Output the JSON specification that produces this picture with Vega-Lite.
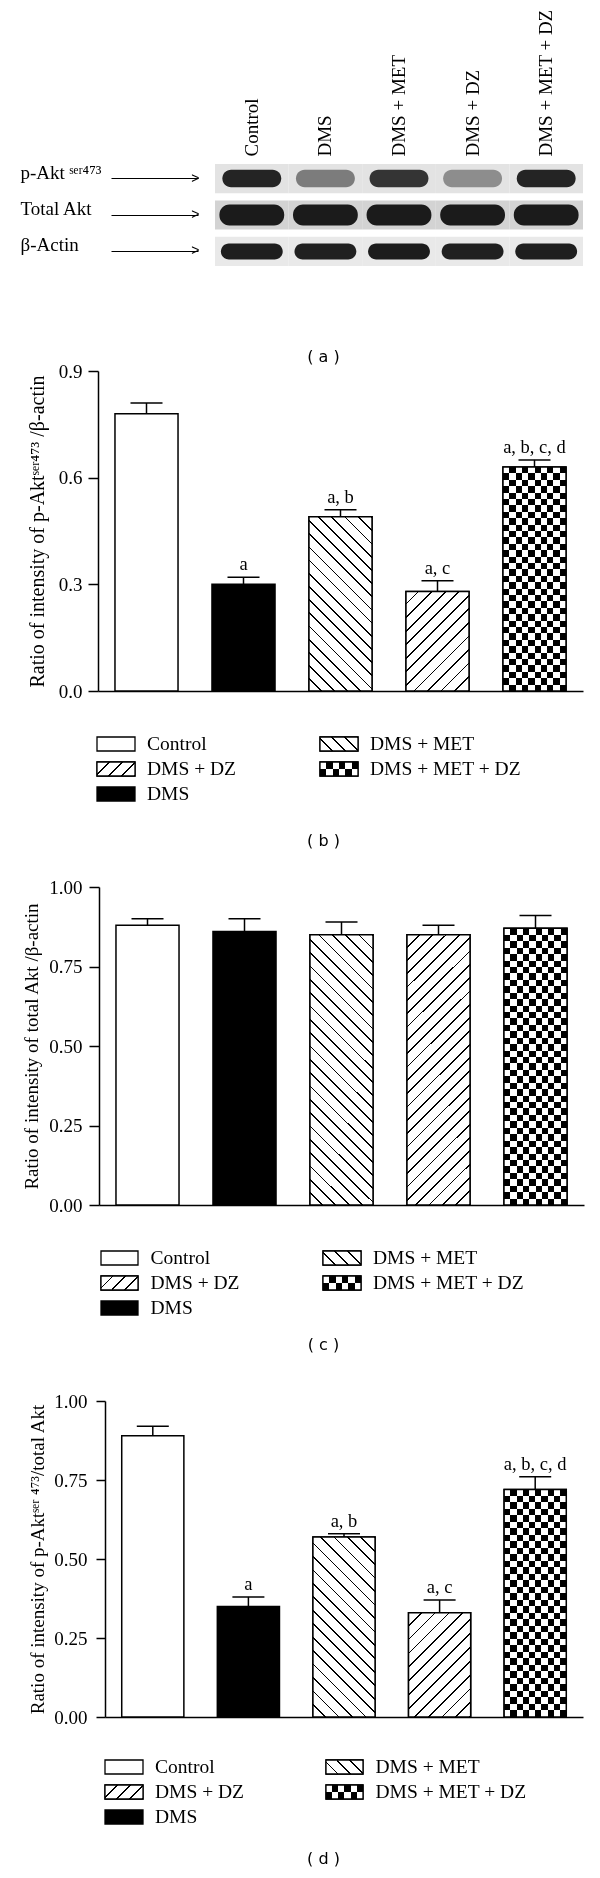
{
"$schema": "https://vega.github.io/schema/vega-lite/v6.json",
"width": 600, "height": 1878,
"autosize": {"type": "none"},
"padding": 0,
"background": "white",
"datasets": {
"blot": [
{"lane":"Control","protein":"p-Akt","intensity":0.93},{"lane":"DMS","protein":"p-Akt","intensity":0.5},{"lane":"DMS + MET","protein":"p-Akt","intensity":0.85},{"lane":"DMS + DZ","protein":"p-Akt","intensity":0.42},{"lane":"DMS + MET + DZ","protein":"p-Akt","intensity":0.93},
{"lane":"Control","protein":"Total Akt","intensity":0.97},{"lane":"DMS","protein":"Total Akt","intensity":0.97},{"lane":"DMS + MET","protein":"Total Akt","intensity":0.97},{"lane":"DMS + DZ","protein":"Total Akt","intensity":0.97},{"lane":"DMS + MET + DZ","protein":"Total Akt","intensity":0.97},
{"lane":"Control","protein":"β-Actin","intensity":0.96},{"lane":"DMS","protein":"β-Actin","intensity":0.95},{"lane":"DMS + MET","protein":"β-Actin","intensity":0.97},{"lane":"DMS + DZ","protein":"β-Actin","intensity":0.95},{"lane":"DMS + MET + DZ","protein":"β-Actin","intensity":0.96}
],
"pAkt_actin": [
{"group":"Control","mean":0.78,"upper":0.81,"sig":""},
{"group":"DMS","mean":0.30,"upper":0.32,"sig":"a"},
{"group":"DMS + MET","mean":0.49,"upper":0.51,"sig":"a, b"},
{"group":"DMS + DZ","mean":0.28,"upper":0.31,"sig":"a, c"},
{"group":"DMS + MET + DZ","mean":0.63,"upper":0.65,"sig":"a, b, c, d"}
],
"totalAkt_actin": [
{"group":"Control","mean":0.88,"upper":0.90,"sig":""},
{"group":"DMS","mean":0.86,"upper":0.90,"sig":""},
{"group":"DMS + MET","mean":0.85,"upper":0.89,"sig":""},
{"group":"DMS + DZ","mean":0.85,"upper":0.88,"sig":""},
{"group":"DMS + MET + DZ","mean":0.87,"upper":0.91,"sig":""}
],
"pAkt_totalAkt": [
{"group":"Control","mean":0.89,"upper":0.92,"sig":""},
{"group":"DMS","mean":0.35,"upper":0.38,"sig":"a"},
{"group":"DMS + MET","mean":0.57,"upper":0.58,"sig":"a, b"},
{"group":"DMS + DZ","mean":0.33,"upper":0.37,"sig":"a, c"},
{"group":"DMS + MET + DZ","mean":0.72,"upper":0.76,"sig":"a, b, c, d"}
]
},
"layer": [
{
"data": {"name": "blot"},
"encoding": {
"x": {"field":"lane","type":"nominal","scale":{"type":"band","domain":["Control","DMS","DMS + MET","DMS + DZ","DMS + MET + DZ"],"range":[215,583],"paddingInner":0,"paddingOuter":0},
"axis":{"orient":"top","offset":-159,"ticks":false,"domain":false,"labelAngle":-90,"labelAlign":"left","labelBaseline":"middle","labelPadding":3,"labelLimit":300,"title":"( a )","titleX":323,"titleY":197,"titleFont":"DejaVu Sans","titleFontSize":16,"titleBaseline":"middle","titleAlign":"center"}},
"y": {"field":"protein","type":"nominal","scale":{"type":"band","domain":["p-Akt","Total Akt","β-Actin"],"range":[164,266],"paddingInner":0.2,"paddingOuter":0},
"axis":{"orient":"left","offset":-198,"domain":false,"tickSize":87,"tickWidth":1.2,"labelAlign":"left","labelBaseline":"alphabetic","labelPadding":91,"labelExpr":"datum.value === 'p-Akt' ? 'p-Akt ˢᵉʳ⁴⁷³' : datum.value","title":null}}
},
"layer": [
{"mark":{"type":"rect","opacity":1},"encoding":{"fill":{"field":"protein","type":"nominal","scale":{"domain":["p-Akt","Total Akt","β-Actin"],"range":["#e3e3e3","#d3d3d3","#e9e9e9"]},"legend":null}}},
{"transform":[{"filter":"datum.protein === 'p-Akt'"}],"mark":{"type":"rect","width":{"band":0.8},"height":{"band":0.6},"cornerRadius":9,"fill":"#151515"},
"encoding":{"opacity":{"field":"intensity","type":"quantitative","scale":null,"legend":null},
"y":{"field":"protein","type":"nominal","scale":{"type":"band","domain":["p-Akt","Total Akt","β-Actin"],"range":[164,266],"paddingInner":0.2,"paddingOuter":0},
"axis":{"orient":"left","offset":-198,"ticks":false,"domain":false,"labelExpr":"'>'","labelAlign":"right","labelBaseline":"middle","labelPadding":-1,"labelFont":"Liberation Sans","labelFontSize":14,"title":null}}}},
{"transform":[{"filter":"datum.protein === 'Total Akt'"}],"mark":{"type":"rect","width":{"band":0.88},"height":{"band":0.72},"cornerRadius":10,"fill":"#151515"},
"encoding":{"opacity":{"field":"intensity","type":"quantitative","scale":null,"legend":null},
"y":{"field":"protein","type":"nominal","scale":{"type":"band","domain":["p-Akt","Total Akt","β-Actin"],"range":[164,266],"paddingInner":0.2,"paddingOuter":0},"axis":null}}},
{"transform":[{"filter":"datum.protein === 'β-Actin'"}],"mark":{"type":"rect","width":{"band":0.84},"height":{"band":0.55},"cornerRadius":8,"fill":"#151515"},
"encoding":{"opacity":{"field":"intensity","type":"quantitative","scale":null,"legend":null},
"y":{"field":"protein","type":"nominal","scale":{"type":"band","domain":["p-Akt","Total Akt","β-Actin"],"range":[164,266],"paddingInner":0.2,"paddingOuter":0},"axis":null}}}
],
"resolve": {"axis": {"y": "independent"}}
},
{
"data": {"name": "pAkt_actin"},
"encoding": {
"x": {"field":"group","type":"nominal","scale":{"type":"band","domain":["Control","DMS","DMS + MET","DMS + DZ","DMS + MET + DZ"],"range":[98,583],"paddingInner":0.35,"paddingOuter":0.175},
"axis":{"orient":"bottom","offset":-1187,"ticks":false,"labels":false,"title":"( b )","titleX":323,"titleY":149,"titleFont":"DejaVu Sans","titleFontSize":16,"titleBaseline":"middle","titleAlign":"center"}},
"y": {"field":"mean","type":"quantitative","scale":{"domain":[0,0.9],"range":[691,371],"nice":false,"zero":false},
"axis":{"orient":"left","offset":-98,"values":[0,0.3,0.6,0.9],"format":".1f","tickSize":10,"labelPadding":6,"title":"Ratio of intensity of p-Aktˢᵉʳ⁴⁷³ /β-actin","titleFontSize":20,"titleX":-55,"titleBaseline":"alphabetic","titleLimit":1000}}
},
"layer": [
{"mark":{"type":"bar","stroke":"#000","strokeWidth":1.5,"opacity":1},"encoding":{"fill":{"field":"group","type":"nominal","scale":{"domain":["Control","DMS","DMS + MET","DMS + DZ","DMS + MET + DZ"],"range":["#fff","#000","#fff","#fff","#fff"]},"legend":null}}},
{"transform":[{"filter":"datum.group === 'DMS + MET'"}],"mark":{"type":"bar","stroke":"#000","strokeWidth":1.5,"opacity":1,"fill":{"gradient":"linear","x1":0,"y1":1,"x2":0.4358,"y2":-0.2042,"stops":[{"offset":0,"color":"#fff"},{"offset":0.0483,"color":"#fff"},{"offset":0.0483,"color":"#000"},{"offset":0.0556,"color":"#000"},{"offset":0.0556,"color":"#fff"},{"offset":0.1039,"color":"#fff"},{"offset":0.1039,"color":"#000"},{"offset":0.1111,"color":"#000"},{"offset":0.1111,"color":"#fff"},{"offset":0.1594,"color":"#fff"},{"offset":0.1594,"color":"#000"},{"offset":0.1667,"color":"#000"},{"offset":0.1667,"color":"#fff"},{"offset":0.215,"color":"#fff"},{"offset":0.215,"color":"#000"},{"offset":0.2222,"color":"#000"},{"offset":0.2222,"color":"#fff"},{"offset":0.2706,"color":"#fff"},{"offset":0.2706,"color":"#000"},{"offset":0.2778,"color":"#000"},{"offset":0.2778,"color":"#fff"},{"offset":0.3261,"color":"#fff"},{"offset":0.3261,"color":"#000"},{"offset":0.3333,"color":"#000"},{"offset":0.3333,"color":"#fff"},{"offset":0.3817,"color":"#fff"},{"offset":0.3817,"color":"#000"},{"offset":0.3889,"color":"#000"},{"offset":0.3889,"color":"#fff"},{"offset":0.4372,"color":"#fff"},{"offset":0.4372,"color":"#000"},{"offset":0.4444,"color":"#000"},{"offset":0.4444,"color":"#fff"},{"offset":0.4928,"color":"#fff"},{"offset":0.4928,"color":"#000"},{"offset":0.5,"color":"#000"},{"offset":0.5,"color":"#fff"},{"offset":0.5483,"color":"#fff"},{"offset":0.5483,"color":"#000"},{"offset":0.5556,"color":"#000"},{"offset":0.5556,"color":"#fff"},{"offset":0.6039,"color":"#fff"},{"offset":0.6039,"color":"#000"},{"offset":0.6111,"color":"#000"},{"offset":0.6111,"color":"#fff"},{"offset":0.6594,"color":"#fff"},{"offset":0.6594,"color":"#000"},{"offset":0.6667,"color":"#000"},{"offset":0.6667,"color":"#fff"},{"offset":0.715,"color":"#fff"},{"offset":0.715,"color":"#000"},{"offset":0.7222,"color":"#000"},{"offset":0.7222,"color":"#fff"},{"offset":0.7706,"color":"#fff"},{"offset":0.7706,"color":"#000"},{"offset":0.7778,"color":"#000"},{"offset":0.7778,"color":"#fff"},{"offset":0.8261,"color":"#fff"},{"offset":0.8261,"color":"#000"},{"offset":0.8333,"color":"#000"},{"offset":0.8333,"color":"#fff"},{"offset":0.8817,"color":"#fff"},{"offset":0.8817,"color":"#000"},{"offset":0.8889,"color":"#000"},{"offset":0.8889,"color":"#fff"},{"offset":0.9372,"color":"#fff"},{"offset":0.9372,"color":"#000"},{"offset":0.9444,"color":"#000"},{"offset":0.9444,"color":"#fff"},{"offset":0.9928,"color":"#fff"},{"offset":0.9928,"color":"#000"},{"offset":1,"color":"#000"}]}}},
{"transform":[{"filter":"datum.group === 'DMS + DZ'"}],"mark":{"type":"bar","stroke":"#000","strokeWidth":1.5,"opacity":1,"fill":{"gradient":"linear","x1":0,"y1":0,"x2":0.7383,"y2":1.1658,"stops":[{"offset":0,"color":"#fff"},{"offset":0.0725,"color":"#fff"},{"offset":0.0725,"color":"#000"},{"offset":0.0833,"color":"#000"},{"offset":0.0833,"color":"#fff"},{"offset":0.1558,"color":"#fff"},{"offset":0.1558,"color":"#000"},{"offset":0.1667,"color":"#000"},{"offset":0.1667,"color":"#fff"},{"offset":0.2392,"color":"#fff"},{"offset":0.2392,"color":"#000"},{"offset":0.25,"color":"#000"},{"offset":0.25,"color":"#fff"},{"offset":0.3225,"color":"#fff"},{"offset":0.3225,"color":"#000"},{"offset":0.3333,"color":"#000"},{"offset":0.3333,"color":"#fff"},{"offset":0.4058,"color":"#fff"},{"offset":0.4058,"color":"#000"},{"offset":0.4167,"color":"#000"},{"offset":0.4167,"color":"#fff"},{"offset":0.4892,"color":"#fff"},{"offset":0.4892,"color":"#000"},{"offset":0.5,"color":"#000"},{"offset":0.5,"color":"#fff"},{"offset":0.5725,"color":"#fff"},{"offset":0.5725,"color":"#000"},{"offset":0.5833,"color":"#000"},{"offset":0.5833,"color":"#fff"},{"offset":0.6558,"color":"#fff"},{"offset":0.6558,"color":"#000"},{"offset":0.6667,"color":"#000"},{"offset":0.6667,"color":"#fff"},{"offset":0.7392,"color":"#fff"},{"offset":0.7392,"color":"#000"},{"offset":0.75,"color":"#000"},{"offset":0.75,"color":"#fff"},{"offset":0.8225,"color":"#fff"},{"offset":0.8225,"color":"#000"},{"offset":0.8333,"color":"#000"},{"offset":0.8333,"color":"#fff"},{"offset":0.9058,"color":"#fff"},{"offset":0.9058,"color":"#000"},{"offset":0.9167,"color":"#000"},{"offset":0.9167,"color":"#fff"},{"offset":0.9892,"color":"#fff"},{"offset":0.9892,"color":"#000"},{"offset":1,"color":"#000"}]}}},
{"transform":[{"filter":"datum.group === 'DMS + MET + DZ'"}],"mark":{"type":"bar","opacity":1,"fill":{"gradient":"linear","x1":0,"y1":0,"x2":1,"y2":0,"stops":[{"offset":0,"color":"#fff"},{"offset":0.1,"color":"#fff"},{"offset":0.1,"color":"#000"},{"offset":0.2,"color":"#000"},{"offset":0.2,"color":"#fff"},{"offset":0.3,"color":"#fff"},{"offset":0.3,"color":"#000"},{"offset":0.4,"color":"#000"},{"offset":0.4,"color":"#fff"},{"offset":0.5,"color":"#fff"},{"offset":0.5,"color":"#000"},{"offset":0.6,"color":"#000"},{"offset":0.6,"color":"#fff"},{"offset":0.7,"color":"#fff"},{"offset":0.7,"color":"#000"},{"offset":0.8,"color":"#000"},{"offset":0.8,"color":"#fff"},{"offset":0.9,"color":"#fff"},{"offset":0.9,"color":"#000"},{"offset":1,"color":"#000"}]}}},
{"transform":[{"filter":"datum.group === 'DMS + MET + DZ'"}],"mark":{"type":"bar","opacity":1,"blend":"difference","fill":{"gradient":"linear","x1":0,"y1":0,"x2":0,"y2":1,"stops":[{"offset":0,"color":"#000"},{"offset":0.02857,"color":"#000"},{"offset":0.02857,"color":"#fff"},{"offset":0.05714,"color":"#fff"},{"offset":0.05714,"color":"#000"},{"offset":0.08571,"color":"#000"},{"offset":0.08571,"color":"#fff"},{"offset":0.11429,"color":"#fff"},{"offset":0.11429,"color":"#000"},{"offset":0.14286,"color":"#000"},{"offset":0.14286,"color":"#fff"},{"offset":0.17143,"color":"#fff"},{"offset":0.17143,"color":"#000"},{"offset":0.2,"color":"#000"},{"offset":0.2,"color":"#fff"},{"offset":0.22857,"color":"#fff"},{"offset":0.22857,"color":"#000"},{"offset":0.25714,"color":"#000"},{"offset":0.25714,"color":"#fff"},{"offset":0.28571,"color":"#fff"},{"offset":0.28571,"color":"#000"},{"offset":0.31429,"color":"#000"},{"offset":0.31429,"color":"#fff"},{"offset":0.34286,"color":"#fff"},{"offset":0.34286,"color":"#000"},{"offset":0.37143,"color":"#000"},{"offset":0.37143,"color":"#fff"},{"offset":0.4,"color":"#fff"},{"offset":0.4,"color":"#000"},{"offset":0.42857,"color":"#000"},{"offset":0.42857,"color":"#fff"},{"offset":0.45714,"color":"#fff"},{"offset":0.45714,"color":"#000"},{"offset":0.48571,"color":"#000"},{"offset":0.48571,"color":"#fff"},{"offset":0.51429,"color":"#fff"},{"offset":0.51429,"color":"#000"},{"offset":0.54286,"color":"#000"},{"offset":0.54286,"color":"#fff"},{"offset":0.57143,"color":"#fff"},{"offset":0.57143,"color":"#000"},{"offset":0.6,"color":"#000"},{"offset":0.6,"color":"#fff"},{"offset":0.62857,"color":"#fff"},{"offset":0.62857,"color":"#000"},{"offset":0.65714,"color":"#000"},{"offset":0.65714,"color":"#fff"},{"offset":0.68571,"color":"#fff"},{"offset":0.68571,"color":"#000"},{"offset":0.71429,"color":"#000"},{"offset":0.71429,"color":"#fff"},{"offset":0.74286,"color":"#fff"},{"offset":0.74286,"color":"#000"},{"offset":0.77143,"color":"#000"},{"offset":0.77143,"color":"#fff"},{"offset":0.8,"color":"#fff"},{"offset":0.8,"color":"#000"},{"offset":0.82857,"color":"#000"},{"offset":0.82857,"color":"#fff"},{"offset":0.85714,"color":"#fff"},{"offset":0.85714,"color":"#000"},{"offset":0.88571,"color":"#000"},{"offset":0.88571,"color":"#fff"},{"offset":0.91429,"color":"#fff"},{"offset":0.91429,"color":"#000"},{"offset":0.94286,"color":"#000"},{"offset":0.94286,"color":"#fff"},{"offset":0.97143,"color":"#fff"},{"offset":0.97143,"color":"#000"},{"offset":1,"color":"#000"}]}}},
{"transform":[{"filter":"datum.group === 'DMS + MET + DZ'"}],"mark":{"type":"bar","opacity":1,"fillOpacity":0,"stroke":"#000","strokeWidth":1.5}},
{"mark":{"type":"rule","color":"#000","strokeWidth":1.5,"opacity":1},"encoding":{"y2":{"field":"upper"}}},
{"mark":{"type":"tick","color":"#000","size":32,"thickness":1.5,"opacity":1},"encoding":{"y":{"field":"upper","type":"quantitative","scale":{"domain":[0,0.9],"range":[691,371],"nice":false,"zero":false}}}},
{"mark":{"type":"text","color":"#000","font":"Liberation Serif","fontSize":18.5,"baseline":"alphabetic","dy":-7},"encoding":{"y":{"field":"upper","type":"quantitative","scale":{"domain":[0,0.9],"range":[691,371],"nice":false,"zero":false}},"text":{"field":"sig"}}}
]
},
{
"data": {"name": "pAkt_actin"},
"transform": [{"filter":"datum.group === 'Control' || datum.group === 'DMS + DZ' || datum.group === 'DMS'"}],
"encoding": {
"y": {"field":"group","type":"nominal","scale":{"type":"band","domain":["Control","DMS + DZ","DMS"],"range":[737,801],"paddingInner":0.44,"paddingOuter":0},"axis":null},
"x": {"datum":"swatch","type":"nominal","scale":{"type":"band","domain":["swatch"],"range":[97,135],"paddingInner":0,"paddingOuter":0},"axis":null}
},
"layer": [
{"mark":{"type":"rect","stroke":"#000","strokeWidth":1.3,"opacity":1},"encoding":{"fill":{"field":"group","type":"nominal","scale":{"domain":["Control","DMS","DMS + MET","DMS + DZ","DMS + MET + DZ"],"range":["#fff","#000","#fff","#fff","#fff"]},"legend":null}}},
{"transform":[{"filter":"datum.group === 'DMS + DZ'"}],"mark":{"type":"rect","stroke":"#000","strokeWidth":1.3,"opacity":1,"fill":{"gradient":"linear","x1":0,"y1":0,"x2":1.2049,"y2":0.4439,"stops":[{"offset":0,"color":"#fff"},{"offset":0.2175,"color":"#fff"},{"offset":0.2175,"color":"#000"},{"offset":0.25,"color":"#000"},{"offset":0.25,"color":"#fff"},{"offset":0.4675,"color":"#fff"},{"offset":0.4675,"color":"#000"},{"offset":0.5,"color":"#000"},{"offset":0.5,"color":"#fff"},{"offset":0.7175,"color":"#fff"},{"offset":0.7175,"color":"#000"},{"offset":0.75,"color":"#000"},{"offset":0.75,"color":"#fff"},{"offset":0.9675,"color":"#fff"},{"offset":0.9675,"color":"#000"},{"offset":1,"color":"#000"}]}}},
{"mark":{"type":"text","align":"left","baseline":"middle","dx":31,"font":"Liberation Serif","fontSize":19.5,"color":"#000"},"encoding":{"text":{"field":"group"}}}
]
},
{
"data": {"name": "pAkt_actin"},
"transform": [{"filter":"datum.group === 'DMS + MET' || datum.group === 'DMS + MET + DZ'"}],
"encoding": {
"y": {"field":"group","type":"nominal","scale":{"type":"band","domain":["DMS + MET","DMS + MET + DZ"],"range":[737,776],"paddingInner":0.44,"paddingOuter":0},"axis":null},
"x": {"datum":"swatch","type":"nominal","scale":{"type":"band","domain":["swatch"],"range":[320,358],"paddingInner":0,"paddingOuter":0},"axis":null}
},
"layer": [
{"mark":{"type":"rect","stroke":"#000","strokeWidth":1.3,"opacity":1,"fill":"#fff"}},
{"transform":[{"filter":"datum.group === 'DMS + MET'"}],"mark":{"type":"rect","stroke":"#000","strokeWidth":1.3,"opacity":1,"fill":{"gradient":"linear","x1":0,"y1":1,"x2":1.2049,"y2":0.5561,"stops":[{"offset":0,"color":"#fff"},{"offset":0.2175,"color":"#fff"},{"offset":0.2175,"color":"#000"},{"offset":0.25,"color":"#000"},{"offset":0.25,"color":"#fff"},{"offset":0.4675,"color":"#fff"},{"offset":0.4675,"color":"#000"},{"offset":0.5,"color":"#000"},{"offset":0.5,"color":"#fff"},{"offset":0.7175,"color":"#fff"},{"offset":0.7175,"color":"#000"},{"offset":0.75,"color":"#000"},{"offset":0.75,"color":"#fff"},{"offset":0.9675,"color":"#fff"},{"offset":0.9675,"color":"#000"},{"offset":1,"color":"#000"}]}}},
{"transform":[{"filter":"datum.group === 'DMS + MET + DZ'"}],"mark":{"type":"rect","opacity":1,"fill":{"gradient":"linear","x1":0,"y1":0,"x2":1,"y2":0,"stops":[{"offset":0,"color":"#fff"},{"offset":0.1667,"color":"#fff"},{"offset":0.1667,"color":"#000"},{"offset":0.3333,"color":"#000"},{"offset":0.3333,"color":"#fff"},{"offset":0.5,"color":"#fff"},{"offset":0.5,"color":"#000"},{"offset":0.6667,"color":"#000"},{"offset":0.6667,"color":"#fff"},{"offset":0.8333,"color":"#fff"},{"offset":0.8333,"color":"#000"},{"offset":1,"color":"#000"}]}}},
{"transform":[{"filter":"datum.group === 'DMS + MET + DZ'"}],"mark":{"type":"rect","opacity":1,"blend":"difference","fill":{"gradient":"linear","x1":0,"y1":0,"x2":0,"y2":1,"stops":[{"offset":0,"color":"#000"},{"offset":0.5,"color":"#000"},{"offset":0.5,"color":"#fff"},{"offset":1,"color":"#fff"}]}}},
{"transform":[{"filter":"datum.group === 'DMS + MET + DZ'"}],"mark":{"type":"rect","opacity":1,"fillOpacity":0,"stroke":"#000","strokeWidth":1.3}},
{"mark":{"type":"text","align":"left","baseline":"middle","dx":31,"font":"Liberation Serif","fontSize":19.5,"color":"#000"},"encoding":{"text":{"field":"group"}}}
]
},
{
"data": {"name": "totalAkt_actin"},
"encoding": {
"x": {"field":"group","type":"nominal","scale":{"type":"band","domain":["Control","DMS","DMS + MET","DMS + DZ","DMS + MET + DZ"],"range":[99,584],"paddingInner":0.35,"paddingOuter":0.175},
"axis":{"orient":"bottom","offset":-673,"ticks":false,"labels":false,"title":"( c )","titleX":323,"titleY":139,"titleFont":"DejaVu Sans","titleFontSize":16,"titleBaseline":"middle","titleAlign":"center"}},
"y": {"field":"mean","type":"quantitative","scale":{"domain":[0,1],"range":[1205,887],"nice":false,"zero":false},
"axis":{"orient":"left","offset":-99,"values":[0,0.25,0.5,0.75,1],"format":".2f","tickSize":10,"labelPadding":7,"title":"Ratio of intensity of total Akt /β-actin","titleX":-62,"titleBaseline":"alphabetic","titleLimit":1000}}
},
"layer": [
{"mark":{"type":"bar","stroke":"#000","strokeWidth":1.5,"opacity":1},"encoding":{"fill":{"field":"group","type":"nominal","scale":{"domain":["Control","DMS","DMS + MET","DMS + DZ","DMS + MET + DZ"],"range":["#fff","#000","#fff","#fff","#fff"]},"legend":null}}},
{"transform":[{"filter":"datum.group === 'DMS + MET'"}],"mark":{"type":"bar","stroke":"#000","strokeWidth":1.5,"opacity":1,"fill":{"gradient":"linear","x1":0,"y1":1,"x2":0.2722,"y2":-0.1693,"stops":[{"offset":0,"color":"#fff"},{"offset":0.0348,"color":"#fff"},{"offset":0.0348,"color":"#000"},{"offset":0.04,"color":"#000"},{"offset":0.04,"color":"#fff"},{"offset":0.0748,"color":"#fff"},{"offset":0.0748,"color":"#000"},{"offset":0.08,"color":"#000"},{"offset":0.08,"color":"#fff"},{"offset":0.1148,"color":"#fff"},{"offset":0.1148,"color":"#000"},{"offset":0.12,"color":"#000"},{"offset":0.12,"color":"#fff"},{"offset":0.1548,"color":"#fff"},{"offset":0.1548,"color":"#000"},{"offset":0.16,"color":"#000"},{"offset":0.16,"color":"#fff"},{"offset":0.1948,"color":"#fff"},{"offset":0.1948,"color":"#000"},{"offset":0.2,"color":"#000"},{"offset":0.2,"color":"#fff"},{"offset":0.2348,"color":"#fff"},{"offset":0.2348,"color":"#000"},{"offset":0.24,"color":"#000"},{"offset":0.24,"color":"#fff"},{"offset":0.2748,"color":"#fff"},{"offset":0.2748,"color":"#000"},{"offset":0.28,"color":"#000"},{"offset":0.28,"color":"#fff"},{"offset":0.3148,"color":"#fff"},{"offset":0.3148,"color":"#000"},{"offset":0.32,"color":"#000"},{"offset":0.32,"color":"#fff"},{"offset":0.3548,"color":"#fff"},{"offset":0.3548,"color":"#000"},{"offset":0.36,"color":"#000"},{"offset":0.36,"color":"#fff"},{"offset":0.3948,"color":"#fff"},{"offset":0.3948,"color":"#000"},{"offset":0.4,"color":"#000"},{"offset":0.4,"color":"#fff"},{"offset":0.4348,"color":"#fff"},{"offset":0.4348,"color":"#000"},{"offset":0.44,"color":"#000"},{"offset":0.44,"color":"#fff"},{"offset":0.4748,"color":"#fff"},{"offset":0.4748,"color":"#000"},{"offset":0.48,"color":"#000"},{"offset":0.48,"color":"#fff"},{"offset":0.5148,"color":"#fff"},{"offset":0.5148,"color":"#000"},{"offset":0.52,"color":"#000"},{"offset":0.52,"color":"#fff"},{"offset":0.5548,"color":"#fff"},{"offset":0.5548,"color":"#000"},{"offset":0.56,"color":"#000"},{"offset":0.56,"color":"#fff"},{"offset":0.5948,"color":"#fff"},{"offset":0.5948,"color":"#000"},{"offset":0.6,"color":"#000"},{"offset":0.6,"color":"#fff"},{"offset":0.6348,"color":"#fff"},{"offset":0.6348,"color":"#000"},{"offset":0.64,"color":"#000"},{"offset":0.64,"color":"#fff"},{"offset":0.6748,"color":"#fff"},{"offset":0.6748,"color":"#000"},{"offset":0.68,"color":"#000"},{"offset":0.68,"color":"#fff"},{"offset":0.7148,"color":"#fff"},{"offset":0.7148,"color":"#000"},{"offset":0.72,"color":"#000"},{"offset":0.72,"color":"#fff"},{"offset":0.7548,"color":"#fff"},{"offset":0.7548,"color":"#000"},{"offset":0.76,"color":"#000"},{"offset":0.76,"color":"#fff"},{"offset":0.7948,"color":"#fff"},{"offset":0.7948,"color":"#000"},{"offset":0.8,"color":"#000"},{"offset":0.8,"color":"#fff"},{"offset":0.8348,"color":"#fff"},{"offset":0.8348,"color":"#000"},{"offset":0.84,"color":"#000"},{"offset":0.84,"color":"#fff"},{"offset":0.8748,"color":"#fff"},{"offset":0.8748,"color":"#000"},{"offset":0.88,"color":"#000"},{"offset":0.88,"color":"#fff"},{"offset":0.9148,"color":"#fff"},{"offset":0.9148,"color":"#000"},{"offset":0.92,"color":"#000"},{"offset":0.92,"color":"#fff"},{"offset":0.9548,"color":"#fff"},{"offset":0.9548,"color":"#000"},{"offset":0.96,"color":"#000"},{"offset":0.96,"color":"#fff"},{"offset":0.9948,"color":"#fff"},{"offset":0.9948,"color":"#000"},{"offset":1,"color":"#000"}]}}},
{"transform":[{"filter":"datum.group === 'DMS + DZ'"}],"mark":{"type":"bar","stroke":"#000","strokeWidth":1.5,"opacity":1,"fill":{"gradient":"linear","x1":0,"y1":0,"x2":0.2722,"y2":1.1693,"stops":[{"offset":0,"color":"#fff"},{"offset":0.0348,"color":"#fff"},{"offset":0.0348,"color":"#000"},{"offset":0.04,"color":"#000"},{"offset":0.04,"color":"#fff"},{"offset":0.0748,"color":"#fff"},{"offset":0.0748,"color":"#000"},{"offset":0.08,"color":"#000"},{"offset":0.08,"color":"#fff"},{"offset":0.1148,"color":"#fff"},{"offset":0.1148,"color":"#000"},{"offset":0.12,"color":"#000"},{"offset":0.12,"color":"#fff"},{"offset":0.1548,"color":"#fff"},{"offset":0.1548,"color":"#000"},{"offset":0.16,"color":"#000"},{"offset":0.16,"color":"#fff"},{"offset":0.1948,"color":"#fff"},{"offset":0.1948,"color":"#000"},{"offset":0.2,"color":"#000"},{"offset":0.2,"color":"#fff"},{"offset":0.2348,"color":"#fff"},{"offset":0.2348,"color":"#000"},{"offset":0.24,"color":"#000"},{"offset":0.24,"color":"#fff"},{"offset":0.2748,"color":"#fff"},{"offset":0.2748,"color":"#000"},{"offset":0.28,"color":"#000"},{"offset":0.28,"color":"#fff"},{"offset":0.3148,"color":"#fff"},{"offset":0.3148,"color":"#000"},{"offset":0.32,"color":"#000"},{"offset":0.32,"color":"#fff"},{"offset":0.3548,"color":"#fff"},{"offset":0.3548,"color":"#000"},{"offset":0.36,"color":"#000"},{"offset":0.36,"color":"#fff"},{"offset":0.3948,"color":"#fff"},{"offset":0.3948,"color":"#000"},{"offset":0.4,"color":"#000"},{"offset":0.4,"color":"#fff"},{"offset":0.4348,"color":"#fff"},{"offset":0.4348,"color":"#000"},{"offset":0.44,"color":"#000"},{"offset":0.44,"color":"#fff"},{"offset":0.4748,"color":"#fff"},{"offset":0.4748,"color":"#000"},{"offset":0.48,"color":"#000"},{"offset":0.48,"color":"#fff"},{"offset":0.5148,"color":"#fff"},{"offset":0.5148,"color":"#000"},{"offset":0.52,"color":"#000"},{"offset":0.52,"color":"#fff"},{"offset":0.5548,"color":"#fff"},{"offset":0.5548,"color":"#000"},{"offset":0.56,"color":"#000"},{"offset":0.56,"color":"#fff"},{"offset":0.5948,"color":"#fff"},{"offset":0.5948,"color":"#000"},{"offset":0.6,"color":"#000"},{"offset":0.6,"color":"#fff"},{"offset":0.6348,"color":"#fff"},{"offset":0.6348,"color":"#000"},{"offset":0.64,"color":"#000"},{"offset":0.64,"color":"#fff"},{"offset":0.6748,"color":"#fff"},{"offset":0.6748,"color":"#000"},{"offset":0.68,"color":"#000"},{"offset":0.68,"color":"#fff"},{"offset":0.7148,"color":"#fff"},{"offset":0.7148,"color":"#000"},{"offset":0.72,"color":"#000"},{"offset":0.72,"color":"#fff"},{"offset":0.7548,"color":"#fff"},{"offset":0.7548,"color":"#000"},{"offset":0.76,"color":"#000"},{"offset":0.76,"color":"#fff"},{"offset":0.7948,"color":"#fff"},{"offset":0.7948,"color":"#000"},{"offset":0.8,"color":"#000"},{"offset":0.8,"color":"#fff"},{"offset":0.8348,"color":"#fff"},{"offset":0.8348,"color":"#000"},{"offset":0.84,"color":"#000"},{"offset":0.84,"color":"#fff"},{"offset":0.8748,"color":"#fff"},{"offset":0.8748,"color":"#000"},{"offset":0.88,"color":"#000"},{"offset":0.88,"color":"#fff"},{"offset":0.9148,"color":"#fff"},{"offset":0.9148,"color":"#000"},{"offset":0.92,"color":"#000"},{"offset":0.92,"color":"#fff"},{"offset":0.9548,"color":"#fff"},{"offset":0.9548,"color":"#000"},{"offset":0.96,"color":"#000"},{"offset":0.96,"color":"#fff"},{"offset":0.9948,"color":"#fff"},{"offset":0.9948,"color":"#000"},{"offset":1,"color":"#000"}]}}},
{"transform":[{"filter":"datum.group === 'DMS + MET + DZ'"}],"mark":{"type":"bar","opacity":1,"fill":{"gradient":"linear","x1":0,"y1":0,"x2":1,"y2":0,"stops":[{"offset":0,"color":"#fff"},{"offset":0.1,"color":"#fff"},{"offset":0.1,"color":"#000"},{"offset":0.2,"color":"#000"},{"offset":0.2,"color":"#fff"},{"offset":0.3,"color":"#fff"},{"offset":0.3,"color":"#000"},{"offset":0.4,"color":"#000"},{"offset":0.4,"color":"#fff"},{"offset":0.5,"color":"#fff"},{"offset":0.5,"color":"#000"},{"offset":0.6,"color":"#000"},{"offset":0.6,"color":"#fff"},{"offset":0.7,"color":"#fff"},{"offset":0.7,"color":"#000"},{"offset":0.8,"color":"#000"},{"offset":0.8,"color":"#fff"},{"offset":0.9,"color":"#fff"},{"offset":0.9,"color":"#000"},{"offset":1,"color":"#000"}]}}},
{"transform":[{"filter":"datum.group === 'DMS + MET + DZ'"}],"mark":{"type":"bar","opacity":1,"blend":"difference","fill":{"gradient":"linear","x1":0,"y1":0,"x2":0,"y2":1,"stops":[{"offset":0,"color":"#000"},{"offset":0.02326,"color":"#000"},{"offset":0.02326,"color":"#fff"},{"offset":0.04651,"color":"#fff"},{"offset":0.04651,"color":"#000"},{"offset":0.06977,"color":"#000"},{"offset":0.06977,"color":"#fff"},{"offset":0.09302,"color":"#fff"},{"offset":0.09302,"color":"#000"},{"offset":0.11628,"color":"#000"},{"offset":0.11628,"color":"#fff"},{"offset":0.13953,"color":"#fff"},{"offset":0.13953,"color":"#000"},{"offset":0.16279,"color":"#000"},{"offset":0.16279,"color":"#fff"},{"offset":0.18605,"color":"#fff"},{"offset":0.18605,"color":"#000"},{"offset":0.2093,"color":"#000"},{"offset":0.2093,"color":"#fff"},{"offset":0.23256,"color":"#fff"},{"offset":0.23256,"color":"#000"},{"offset":0.25581,"color":"#000"},{"offset":0.25581,"color":"#fff"},{"offset":0.27907,"color":"#fff"},{"offset":0.27907,"color":"#000"},{"offset":0.30233,"color":"#000"},{"offset":0.30233,"color":"#fff"},{"offset":0.32558,"color":"#fff"},{"offset":0.32558,"color":"#000"},{"offset":0.34884,"color":"#000"},{"offset":0.34884,"color":"#fff"},{"offset":0.37209,"color":"#fff"},{"offset":0.37209,"color":"#000"},{"offset":0.39535,"color":"#000"},{"offset":0.39535,"color":"#fff"},{"offset":0.4186,"color":"#fff"},{"offset":0.4186,"color":"#000"},{"offset":0.44186,"color":"#000"},{"offset":0.44186,"color":"#fff"},{"offset":0.46512,"color":"#fff"},{"offset":0.46512,"color":"#000"},{"offset":0.48837,"color":"#000"},{"offset":0.48837,"color":"#fff"},{"offset":0.51163,"color":"#fff"},{"offset":0.51163,"color":"#000"},{"offset":0.53488,"color":"#000"},{"offset":0.53488,"color":"#fff"},{"offset":0.55814,"color":"#fff"},{"offset":0.55814,"color":"#000"},{"offset":0.5814,"color":"#000"},{"offset":0.5814,"color":"#fff"},{"offset":0.60465,"color":"#fff"},{"offset":0.60465,"color":"#000"},{"offset":0.62791,"color":"#000"},{"offset":0.62791,"color":"#fff"},{"offset":0.65116,"color":"#fff"},{"offset":0.65116,"color":"#000"},{"offset":0.67442,"color":"#000"},{"offset":0.67442,"color":"#fff"},{"offset":0.69767,"color":"#fff"},{"offset":0.69767,"color":"#000"},{"offset":0.72093,"color":"#000"},{"offset":0.72093,"color":"#fff"},{"offset":0.74419,"color":"#fff"},{"offset":0.74419,"color":"#000"},{"offset":0.76744,"color":"#000"},{"offset":0.76744,"color":"#fff"},{"offset":0.7907,"color":"#fff"},{"offset":0.7907,"color":"#000"},{"offset":0.81395,"color":"#000"},{"offset":0.81395,"color":"#fff"},{"offset":0.83721,"color":"#fff"},{"offset":0.83721,"color":"#000"},{"offset":0.86047,"color":"#000"},{"offset":0.86047,"color":"#fff"},{"offset":0.88372,"color":"#fff"},{"offset":0.88372,"color":"#000"},{"offset":0.90698,"color":"#000"},{"offset":0.90698,"color":"#fff"},{"offset":0.93023,"color":"#fff"},{"offset":0.93023,"color":"#000"},{"offset":0.95349,"color":"#000"},{"offset":0.95349,"color":"#fff"},{"offset":0.97674,"color":"#fff"},{"offset":0.97674,"color":"#000"},{"offset":1,"color":"#000"}]}}},
{"transform":[{"filter":"datum.group === 'DMS + MET + DZ'"}],"mark":{"type":"bar","opacity":1,"fillOpacity":0,"stroke":"#000","strokeWidth":1.5}},
{"mark":{"type":"rule","color":"#000","strokeWidth":1.5,"opacity":1},"encoding":{"y2":{"field":"upper"}}},
{"mark":{"type":"tick","color":"#000","size":32,"thickness":1.5,"opacity":1},"encoding":{"y":{"field":"upper","type":"quantitative","scale":{"domain":[0,1],"range":[1205,887],"nice":false,"zero":false}}}}
]
},
{
"data": {"name": "totalAkt_actin"},
"transform": [{"filter":"datum.group === 'Control' || datum.group === 'DMS + DZ' || datum.group === 'DMS'"}],
"encoding": {
"y": {"field":"group","type":"nominal","scale":{"type":"band","domain":["Control","DMS + DZ","DMS"],"range":[1251,1315],"paddingInner":0.44,"paddingOuter":0},"axis":null},
"x": {"datum":"swatch","type":"nominal","scale":{"type":"band","domain":["swatch"],"range":[101,138],"paddingInner":0,"paddingOuter":0},"axis":null}
},
"layer": [
{"mark":{"type":"rect","stroke":"#000","strokeWidth":1.3,"opacity":1},"encoding":{"fill":{"field":"group","type":"nominal","scale":{"domain":["Control","DMS","DMS + MET","DMS + DZ","DMS + MET + DZ"],"range":["#fff","#000","#fff","#fff","#fff"]},"legend":null}}},
{"transform":[{"filter":"datum.group === 'DMS + DZ'"}],"mark":{"type":"rect","stroke":"#000","strokeWidth":1.3,"opacity":1,"fill":{"gradient":"linear","x1":0,"y1":0,"x2":1.2049,"y2":0.4439,"stops":[{"offset":0,"color":"#fff"},{"offset":0.2175,"color":"#fff"},{"offset":0.2175,"color":"#000"},{"offset":0.25,"color":"#000"},{"offset":0.25,"color":"#fff"},{"offset":0.4675,"color":"#fff"},{"offset":0.4675,"color":"#000"},{"offset":0.5,"color":"#000"},{"offset":0.5,"color":"#fff"},{"offset":0.7175,"color":"#fff"},{"offset":0.7175,"color":"#000"},{"offset":0.75,"color":"#000"},{"offset":0.75,"color":"#fff"},{"offset":0.9675,"color":"#fff"},{"offset":0.9675,"color":"#000"},{"offset":1,"color":"#000"}]}}},
{"mark":{"type":"text","align":"left","baseline":"middle","dx":31,"font":"Liberation Serif","fontSize":19.5,"color":"#000"},"encoding":{"text":{"field":"group"}}}
]
},
{
"data": {"name": "totalAkt_actin"},
"transform": [{"filter":"datum.group === 'DMS + MET' || datum.group === 'DMS + MET + DZ'"}],
"encoding": {
"y": {"field":"group","type":"nominal","scale":{"type":"band","domain":["DMS + MET","DMS + MET + DZ"],"range":[1251,1290],"paddingInner":0.44,"paddingOuter":0},"axis":null},
"x": {"datum":"swatch","type":"nominal","scale":{"type":"band","domain":["swatch"],"range":[323,361],"paddingInner":0,"paddingOuter":0},"axis":null}
},
"layer": [
{"mark":{"type":"rect","stroke":"#000","strokeWidth":1.3,"opacity":1,"fill":"#fff"}},
{"transform":[{"filter":"datum.group === 'DMS + MET'"}],"mark":{"type":"rect","stroke":"#000","strokeWidth":1.3,"opacity":1,"fill":{"gradient":"linear","x1":0,"y1":1,"x2":1.2049,"y2":0.5561,"stops":[{"offset":0,"color":"#fff"},{"offset":0.2175,"color":"#fff"},{"offset":0.2175,"color":"#000"},{"offset":0.25,"color":"#000"},{"offset":0.25,"color":"#fff"},{"offset":0.4675,"color":"#fff"},{"offset":0.4675,"color":"#000"},{"offset":0.5,"color":"#000"},{"offset":0.5,"color":"#fff"},{"offset":0.7175,"color":"#fff"},{"offset":0.7175,"color":"#000"},{"offset":0.75,"color":"#000"},{"offset":0.75,"color":"#fff"},{"offset":0.9675,"color":"#fff"},{"offset":0.9675,"color":"#000"},{"offset":1,"color":"#000"}]}}},
{"transform":[{"filter":"datum.group === 'DMS + MET + DZ'"}],"mark":{"type":"rect","opacity":1,"fill":{"gradient":"linear","x1":0,"y1":0,"x2":1,"y2":0,"stops":[{"offset":0,"color":"#fff"},{"offset":0.1667,"color":"#fff"},{"offset":0.1667,"color":"#000"},{"offset":0.3333,"color":"#000"},{"offset":0.3333,"color":"#fff"},{"offset":0.5,"color":"#fff"},{"offset":0.5,"color":"#000"},{"offset":0.6667,"color":"#000"},{"offset":0.6667,"color":"#fff"},{"offset":0.8333,"color":"#fff"},{"offset":0.8333,"color":"#000"},{"offset":1,"color":"#000"}]}}},
{"transform":[{"filter":"datum.group === 'DMS + MET + DZ'"}],"mark":{"type":"rect","opacity":1,"blend":"difference","fill":{"gradient":"linear","x1":0,"y1":0,"x2":0,"y2":1,"stops":[{"offset":0,"color":"#000"},{"offset":0.5,"color":"#000"},{"offset":0.5,"color":"#fff"},{"offset":1,"color":"#fff"}]}}},
{"transform":[{"filter":"datum.group === 'DMS + MET + DZ'"}],"mark":{"type":"rect","opacity":1,"fillOpacity":0,"stroke":"#000","strokeWidth":1.3}},
{"mark":{"type":"text","align":"left","baseline":"middle","dx":31,"font":"Liberation Serif","fontSize":19.5,"color":"#000"},"encoding":{"text":{"field":"group"}}}
]
},
{
"data": {"name": "pAkt_totalAkt"},
"encoding": {
"x": {"field":"group","type":"nominal","scale":{"type":"band","domain":["Control","DMS","DMS + MET","DMS + DZ","DMS + MET + DZ"],"range":[105,583],"paddingInner":0.35,"paddingOuter":0.175},
"axis":{"orient":"bottom","offset":-161,"ticks":false,"labels":false,"title":"( d )","titleX":323,"titleY":141,"titleFont":"DejaVu Sans","titleFontSize":16,"titleBaseline":"middle","titleAlign":"center"}},
"y": {"field":"mean","type":"quantitative","scale":{"domain":[0,1],"range":[1717,1401],"nice":false,"zero":false},
"axis":{"orient":"left","offset":-105,"values":[0,0.25,0.5,0.75,1],"format":".2f","tickSize":9,"labelPadding":9,"title":"Ratio of intensity of p-Aktˢᵉʳ ⁴⁷³/total Akt","titleX":-62,"titleBaseline":"alphabetic","titleLimit":1000}}
},
"layer": [
{"mark":{"type":"bar","stroke":"#000","strokeWidth":1.5,"opacity":1},"encoding":{"fill":{"field":"group","type":"nominal","scale":{"domain":["Control","DMS","DMS + MET","DMS + DZ","DMS + MET + DZ"],"range":["#fff","#000","#fff","#fff","#fff"]},"legend":null}}},
{"transform":[{"filter":"datum.group === 'DMS + MET'"}],"mark":{"type":"bar","stroke":"#000","strokeWidth":1.5,"opacity":1,"fill":{"gradient":"linear","x1":0,"y1":1,"x2":0.4146,"y2":-0.2019,"stops":[{"offset":0,"color":"#fff"},{"offset":0.0483,"color":"#fff"},{"offset":0.0483,"color":"#000"},{"offset":0.0556,"color":"#000"},{"offset":0.0556,"color":"#fff"},{"offset":0.1039,"color":"#fff"},{"offset":0.1039,"color":"#000"},{"offset":0.1111,"color":"#000"},{"offset":0.1111,"color":"#fff"},{"offset":0.1594,"color":"#fff"},{"offset":0.1594,"color":"#000"},{"offset":0.1667,"color":"#000"},{"offset":0.1667,"color":"#fff"},{"offset":0.215,"color":"#fff"},{"offset":0.215,"color":"#000"},{"offset":0.2222,"color":"#000"},{"offset":0.2222,"color":"#fff"},{"offset":0.2706,"color":"#fff"},{"offset":0.2706,"color":"#000"},{"offset":0.2778,"color":"#000"},{"offset":0.2778,"color":"#fff"},{"offset":0.3261,"color":"#fff"},{"offset":0.3261,"color":"#000"},{"offset":0.3333,"color":"#000"},{"offset":0.3333,"color":"#fff"},{"offset":0.3817,"color":"#fff"},{"offset":0.3817,"color":"#000"},{"offset":0.3889,"color":"#000"},{"offset":0.3889,"color":"#fff"},{"offset":0.4372,"color":"#fff"},{"offset":0.4372,"color":"#000"},{"offset":0.4444,"color":"#000"},{"offset":0.4444,"color":"#fff"},{"offset":0.4928,"color":"#fff"},{"offset":0.4928,"color":"#000"},{"offset":0.5,"color":"#000"},{"offset":0.5,"color":"#fff"},{"offset":0.5483,"color":"#fff"},{"offset":0.5483,"color":"#000"},{"offset":0.5556,"color":"#000"},{"offset":0.5556,"color":"#fff"},{"offset":0.6039,"color":"#fff"},{"offset":0.6039,"color":"#000"},{"offset":0.6111,"color":"#000"},{"offset":0.6111,"color":"#fff"},{"offset":0.6594,"color":"#fff"},{"offset":0.6594,"color":"#000"},{"offset":0.6667,"color":"#000"},{"offset":0.6667,"color":"#fff"},{"offset":0.715,"color":"#fff"},{"offset":0.715,"color":"#000"},{"offset":0.7222,"color":"#000"},{"offset":0.7222,"color":"#fff"},{"offset":0.7706,"color":"#fff"},{"offset":0.7706,"color":"#000"},{"offset":0.7778,"color":"#000"},{"offset":0.7778,"color":"#fff"},{"offset":0.8261,"color":"#fff"},{"offset":0.8261,"color":"#000"},{"offset":0.8333,"color":"#000"},{"offset":0.8333,"color":"#fff"},{"offset":0.8817,"color":"#fff"},{"offset":0.8817,"color":"#000"},{"offset":0.8889,"color":"#000"},{"offset":0.8889,"color":"#fff"},{"offset":0.9372,"color":"#fff"},{"offset":0.9372,"color":"#000"},{"offset":0.9444,"color":"#000"},{"offset":0.9444,"color":"#fff"},{"offset":0.9928,"color":"#fff"},{"offset":0.9928,"color":"#000"},{"offset":1,"color":"#000"}]}}},
{"transform":[{"filter":"datum.group === 'DMS + DZ'"}],"mark":{"type":"bar","stroke":"#000","strokeWidth":1.5,"opacity":1,"fill":{"gradient":"linear","x1":0,"y1":0,"x2":0.7018,"y2":1.1777,"stops":[{"offset":0,"color":"#fff"},{"offset":0.0725,"color":"#fff"},{"offset":0.0725,"color":"#000"},{"offset":0.0833,"color":"#000"},{"offset":0.0833,"color":"#fff"},{"offset":0.1558,"color":"#fff"},{"offset":0.1558,"color":"#000"},{"offset":0.1667,"color":"#000"},{"offset":0.1667,"color":"#fff"},{"offset":0.2392,"color":"#fff"},{"offset":0.2392,"color":"#000"},{"offset":0.25,"color":"#000"},{"offset":0.25,"color":"#fff"},{"offset":0.3225,"color":"#fff"},{"offset":0.3225,"color":"#000"},{"offset":0.3333,"color":"#000"},{"offset":0.3333,"color":"#fff"},{"offset":0.4058,"color":"#fff"},{"offset":0.4058,"color":"#000"},{"offset":0.4167,"color":"#000"},{"offset":0.4167,"color":"#fff"},{"offset":0.4892,"color":"#fff"},{"offset":0.4892,"color":"#000"},{"offset":0.5,"color":"#000"},{"offset":0.5,"color":"#fff"},{"offset":0.5725,"color":"#fff"},{"offset":0.5725,"color":"#000"},{"offset":0.5833,"color":"#000"},{"offset":0.5833,"color":"#fff"},{"offset":0.6558,"color":"#fff"},{"offset":0.6558,"color":"#000"},{"offset":0.6667,"color":"#000"},{"offset":0.6667,"color":"#fff"},{"offset":0.7392,"color":"#fff"},{"offset":0.7392,"color":"#000"},{"offset":0.75,"color":"#000"},{"offset":0.75,"color":"#fff"},{"offset":0.8225,"color":"#fff"},{"offset":0.8225,"color":"#000"},{"offset":0.8333,"color":"#000"},{"offset":0.8333,"color":"#fff"},{"offset":0.9058,"color":"#fff"},{"offset":0.9058,"color":"#000"},{"offset":0.9167,"color":"#000"},{"offset":0.9167,"color":"#fff"},{"offset":0.9892,"color":"#fff"},{"offset":0.9892,"color":"#000"},{"offset":1,"color":"#000"}]}}},
{"transform":[{"filter":"datum.group === 'DMS + MET + DZ'"}],"mark":{"type":"bar","opacity":1,"fill":{"gradient":"linear","x1":0,"y1":0,"x2":1,"y2":0,"stops":[{"offset":0,"color":"#fff"},{"offset":0.1,"color":"#fff"},{"offset":0.1,"color":"#000"},{"offset":0.2,"color":"#000"},{"offset":0.2,"color":"#fff"},{"offset":0.3,"color":"#fff"},{"offset":0.3,"color":"#000"},{"offset":0.4,"color":"#000"},{"offset":0.4,"color":"#fff"},{"offset":0.5,"color":"#fff"},{"offset":0.5,"color":"#000"},{"offset":0.6,"color":"#000"},{"offset":0.6,"color":"#fff"},{"offset":0.7,"color":"#fff"},{"offset":0.7,"color":"#000"},{"offset":0.8,"color":"#000"},{"offset":0.8,"color":"#fff"},{"offset":0.9,"color":"#fff"},{"offset":0.9,"color":"#000"},{"offset":1,"color":"#000"}]}}},
{"transform":[{"filter":"datum.group === 'DMS + MET + DZ'"}],"mark":{"type":"bar","opacity":1,"blend":"difference","fill":{"gradient":"linear","x1":0,"y1":0,"x2":0,"y2":1,"stops":[{"offset":0,"color":"#000"},{"offset":0.02857,"color":"#000"},{"offset":0.02857,"color":"#fff"},{"offset":0.05714,"color":"#fff"},{"offset":0.05714,"color":"#000"},{"offset":0.08571,"color":"#000"},{"offset":0.08571,"color":"#fff"},{"offset":0.11429,"color":"#fff"},{"offset":0.11429,"color":"#000"},{"offset":0.14286,"color":"#000"},{"offset":0.14286,"color":"#fff"},{"offset":0.17143,"color":"#fff"},{"offset":0.17143,"color":"#000"},{"offset":0.2,"color":"#000"},{"offset":0.2,"color":"#fff"},{"offset":0.22857,"color":"#fff"},{"offset":0.22857,"color":"#000"},{"offset":0.25714,"color":"#000"},{"offset":0.25714,"color":"#fff"},{"offset":0.28571,"color":"#fff"},{"offset":0.28571,"color":"#000"},{"offset":0.31429,"color":"#000"},{"offset":0.31429,"color":"#fff"},{"offset":0.34286,"color":"#fff"},{"offset":0.34286,"color":"#000"},{"offset":0.37143,"color":"#000"},{"offset":0.37143,"color":"#fff"},{"offset":0.4,"color":"#fff"},{"offset":0.4,"color":"#000"},{"offset":0.42857,"color":"#000"},{"offset":0.42857,"color":"#fff"},{"offset":0.45714,"color":"#fff"},{"offset":0.45714,"color":"#000"},{"offset":0.48571,"color":"#000"},{"offset":0.48571,"color":"#fff"},{"offset":0.51429,"color":"#fff"},{"offset":0.51429,"color":"#000"},{"offset":0.54286,"color":"#000"},{"offset":0.54286,"color":"#fff"},{"offset":0.57143,"color":"#fff"},{"offset":0.57143,"color":"#000"},{"offset":0.6,"color":"#000"},{"offset":0.6,"color":"#fff"},{"offset":0.62857,"color":"#fff"},{"offset":0.62857,"color":"#000"},{"offset":0.65714,"color":"#000"},{"offset":0.65714,"color":"#fff"},{"offset":0.68571,"color":"#fff"},{"offset":0.68571,"color":"#000"},{"offset":0.71429,"color":"#000"},{"offset":0.71429,"color":"#fff"},{"offset":0.74286,"color":"#fff"},{"offset":0.74286,"color":"#000"},{"offset":0.77143,"color":"#000"},{"offset":0.77143,"color":"#fff"},{"offset":0.8,"color":"#fff"},{"offset":0.8,"color":"#000"},{"offset":0.82857,"color":"#000"},{"offset":0.82857,"color":"#fff"},{"offset":0.85714,"color":"#fff"},{"offset":0.85714,"color":"#000"},{"offset":0.88571,"color":"#000"},{"offset":0.88571,"color":"#fff"},{"offset":0.91429,"color":"#fff"},{"offset":0.91429,"color":"#000"},{"offset":0.94286,"color":"#000"},{"offset":0.94286,"color":"#fff"},{"offset":0.97143,"color":"#fff"},{"offset":0.97143,"color":"#000"},{"offset":1,"color":"#000"}]}}},
{"transform":[{"filter":"datum.group === 'DMS + MET + DZ'"}],"mark":{"type":"bar","opacity":1,"fillOpacity":0,"stroke":"#000","strokeWidth":1.5}},
{"mark":{"type":"rule","color":"#000","strokeWidth":1.5,"opacity":1},"encoding":{"y2":{"field":"upper"}}},
{"mark":{"type":"tick","color":"#000","size":32,"thickness":1.5,"opacity":1},"encoding":{"y":{"field":"upper","type":"quantitative","scale":{"domain":[0,1],"range":[1717,1401],"nice":false,"zero":false}}}},
{"mark":{"type":"text","color":"#000","font":"Liberation Serif","fontSize":18.5,"baseline":"alphabetic","dy":-7},"encoding":{"y":{"field":"upper","type":"quantitative","scale":{"domain":[0,1],"range":[1717,1401],"nice":false,"zero":false}},"text":{"field":"sig"}}}
]
},
{
"data": {"name": "pAkt_totalAkt"},
"transform": [{"filter":"datum.group === 'Control' || datum.group === 'DMS + DZ' || datum.group === 'DMS'"}],
"encoding": {
"y": {"field":"group","type":"nominal","scale":{"type":"band","domain":["Control","DMS + DZ","DMS"],"range":[1760,1824],"paddingInner":0.44,"paddingOuter":0},"axis":null},
"x": {"datum":"swatch","type":"nominal","scale":{"type":"band","domain":["swatch"],"range":[105,143],"paddingInner":0,"paddingOuter":0},"axis":null}
},
"layer": [
{"mark":{"type":"rect","stroke":"#000","strokeWidth":1.3,"opacity":1},"encoding":{"fill":{"field":"group","type":"nominal","scale":{"domain":["Control","DMS","DMS + MET","DMS + DZ","DMS + MET + DZ"],"range":["#fff","#000","#fff","#fff","#fff"]},"legend":null}}},
{"transform":[{"filter":"datum.group === 'DMS + DZ'"}],"mark":{"type":"rect","stroke":"#000","strokeWidth":1.3,"opacity":1,"fill":{"gradient":"linear","x1":0,"y1":0,"x2":1.2049,"y2":0.4439,"stops":[{"offset":0,"color":"#fff"},{"offset":0.2175,"color":"#fff"},{"offset":0.2175,"color":"#000"},{"offset":0.25,"color":"#000"},{"offset":0.25,"color":"#fff"},{"offset":0.4675,"color":"#fff"},{"offset":0.4675,"color":"#000"},{"offset":0.5,"color":"#000"},{"offset":0.5,"color":"#fff"},{"offset":0.7175,"color":"#fff"},{"offset":0.7175,"color":"#000"},{"offset":0.75,"color":"#000"},{"offset":0.75,"color":"#fff"},{"offset":0.9675,"color":"#fff"},{"offset":0.9675,"color":"#000"},{"offset":1,"color":"#000"}]}}},
{"mark":{"type":"text","align":"left","baseline":"middle","dx":31,"font":"Liberation Serif","fontSize":19.5,"color":"#000"},"encoding":{"text":{"field":"group"}}}
]
},
{
"data": {"name": "pAkt_totalAkt"},
"transform": [{"filter":"datum.group === 'DMS + MET' || datum.group === 'DMS + MET + DZ'"}],
"encoding": {
"y": {"field":"group","type":"nominal","scale":{"type":"band","domain":["DMS + MET","DMS + MET + DZ"],"range":[1760,1799],"paddingInner":0.44,"paddingOuter":0},"axis":null},
"x": {"datum":"swatch","type":"nominal","scale":{"type":"band","domain":["swatch"],"range":[326,363],"paddingInner":0,"paddingOuter":0},"axis":null}
},
"layer": [
{"mark":{"type":"rect","stroke":"#000","strokeWidth":1.3,"opacity":1,"fill":"#fff"}},
{"transform":[{"filter":"datum.group === 'DMS + MET'"}],"mark":{"type":"rect","stroke":"#000","strokeWidth":1.3,"opacity":1,"fill":{"gradient":"linear","x1":0,"y1":1,"x2":1.2049,"y2":0.5561,"stops":[{"offset":0,"color":"#fff"},{"offset":0.2175,"color":"#fff"},{"offset":0.2175,"color":"#000"},{"offset":0.25,"color":"#000"},{"offset":0.25,"color":"#fff"},{"offset":0.4675,"color":"#fff"},{"offset":0.4675,"color":"#000"},{"offset":0.5,"color":"#000"},{"offset":0.5,"color":"#fff"},{"offset":0.7175,"color":"#fff"},{"offset":0.7175,"color":"#000"},{"offset":0.75,"color":"#000"},{"offset":0.75,"color":"#fff"},{"offset":0.9675,"color":"#fff"},{"offset":0.9675,"color":"#000"},{"offset":1,"color":"#000"}]}}},
{"transform":[{"filter":"datum.group === 'DMS + MET + DZ'"}],"mark":{"type":"rect","opacity":1,"fill":{"gradient":"linear","x1":0,"y1":0,"x2":1,"y2":0,"stops":[{"offset":0,"color":"#fff"},{"offset":0.1667,"color":"#fff"},{"offset":0.1667,"color":"#000"},{"offset":0.3333,"color":"#000"},{"offset":0.3333,"color":"#fff"},{"offset":0.5,"color":"#fff"},{"offset":0.5,"color":"#000"},{"offset":0.6667,"color":"#000"},{"offset":0.6667,"color":"#fff"},{"offset":0.8333,"color":"#fff"},{"offset":0.8333,"color":"#000"},{"offset":1,"color":"#000"}]}}},
{"transform":[{"filter":"datum.group === 'DMS + MET + DZ'"}],"mark":{"type":"rect","opacity":1,"blend":"difference","fill":{"gradient":"linear","x1":0,"y1":0,"x2":0,"y2":1,"stops":[{"offset":0,"color":"#000"},{"offset":0.5,"color":"#000"},{"offset":0.5,"color":"#fff"},{"offset":1,"color":"#fff"}]}}},
{"transform":[{"filter":"datum.group === 'DMS + MET + DZ'"}],"mark":{"type":"rect","opacity":1,"fillOpacity":0,"stroke":"#000","strokeWidth":1.3}},
{"mark":{"type":"text","align":"left","baseline":"middle","dx":31,"font":"Liberation Serif","fontSize":19.5,"color":"#000"},"encoding":{"text":{"field":"group"}}}
]
}
],
"resolve": {"scale": {"x":"independent","y":"independent","fill":"independent","opacity":"independent"}, "axis": {"x":"independent","y":"independent"}},
"config": {
"view": {"stroke": null},
"axis": {"domainColor":"#000","domainWidth":1.5,"tickColor":"#000","tickWidth":1.5,"labelColor":"#000","labelFont":"Liberation Serif","labelFontSize":19,"titleColor":"#000","titleFont":"Liberation Serif","titleFontSize":19,"titleFontWeight":"normal","grid":false,"labelOverlap":false}
}
}
